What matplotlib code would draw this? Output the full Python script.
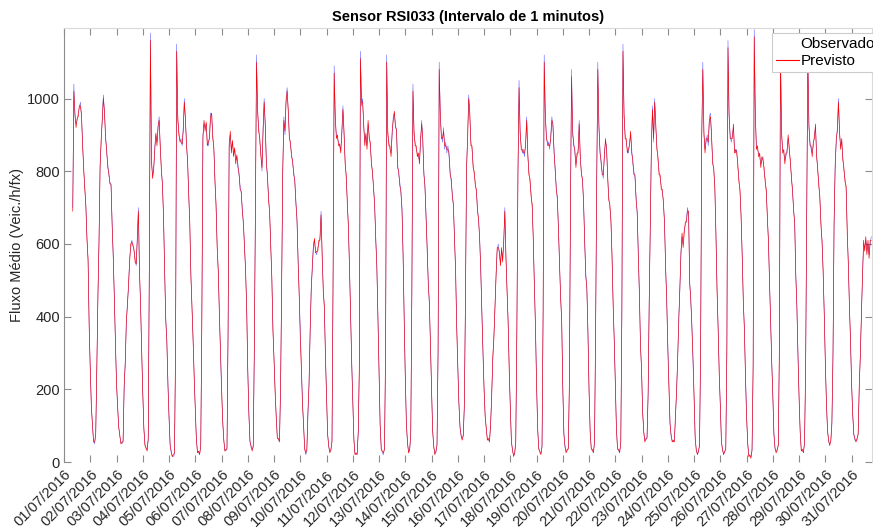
import numpy as np
import pandas as pd
import matplotlib
matplotlib.use("Agg")
import matplotlib.pyplot as plt
from matplotlib.lines import Line2D

plt.rcParams['font.family'] = ['Liberation Sans', 'DejaVu Sans']

# hourly values, first point 01/07/2016 08:00
observado = [
    700, 1040, 950, 930, 940, 960, 975, 990, 950, 880, 800, 760, 700, 620, 550, 380,
    250, 160, 100, 60, 50, 80, 250, 460, 600, 820, 880, 950, 1010, 960, 900, 850, 820, 790, 770, 760, 660, 560, 460, 330,
    220, 150, 100, 70, 55, 50, 60, 200, 280, 380, 440, 480, 560, 590, 610, 600, 580, 560, 540, 620, 700, 520, 440, 300,
    200, 90, 50, 35, 35, 60, 550, 1180, 820, 790, 800, 870, 900, 880, 920, 950, 860, 810, 760, 680, 520, 400, 330, 220,
    120, 50, 25, 15, 15, 20, 300, 1150, 940, 910, 880, 890, 870, 920, 1000, 940, 880, 820, 740, 650, 520, 420, 340, 230,
    150, 60, 30, 25, 25, 40, 400, 900, 930, 920, 930, 880, 870, 900, 960, 955, 900, 860, 780, 700, 600, 520, 420, 300,
    200, 120, 60, 35, 30, 40, 350, 880, 900, 860, 880, 850, 860, 830, 840, 820, 790, 760, 740, 700, 650, 600, 520, 430,
    260, 130, 60, 40, 35, 40, 300, 700, 1120, 960, 920, 880, 850, 800, 920, 1000, 920, 830, 780, 730, 680, 600, 500, 370,
    280, 200, 120, 70, 60, 60, 200, 500, 800, 950, 900, 1000, 1030, 960, 900, 870, 850, 820, 800, 770, 720, 660, 560, 450,
    350, 250, 170, 100, 40, 20, 30, 130, 220, 350, 480, 530, 600, 610, 580, 570, 590, 600, 620, 690, 560, 480, 420, 300,
    180, 80, 40, 30, 30, 60, 500, 1090, 940, 900, 890, 880, 870, 860, 900, 980, 900, 830, 780, 720, 640, 540, 400, 280,
    170, 60, 25, 20, 25, 80, 250, 1130, 980, 1000, 920, 880, 900, 870, 930, 900, 870, 830, 790, 760, 700, 620, 530, 400,
    250, 100, 40, 25, 20, 40, 300, 1120, 900, 880, 860, 850, 900, 950, 960, 930, 910, 820, 790, 770, 740, 700, 560, 400,
    230, 110, 50, 30, 30, 80, 450, 1040, 900, 880, 860, 850, 840, 830, 880, 940, 880, 800, 750, 680, 580, 500, 430, 330,
    200, 90, 40, 25, 25, 50, 300, 1100, 950, 900, 880, 920, 860, 880, 850, 870, 840, 800, 770, 740, 700, 620, 520, 380,
    270, 160, 100, 70, 65, 70, 150, 450, 800, 900, 1010, 950, 880, 860, 820, 790, 770, 740, 700, 660, 620, 520, 420, 300,
    200, 130, 90, 65, 60, 60, 100, 190, 280, 350, 420, 520, 580, 600, 570, 550, 580, 560, 600, 700, 560, 480, 380, 260,
    150, 60, 30, 20, 20, 60, 350, 800, 1050, 900, 870, 850, 860, 840, 880, 950, 840, 800, 770, 740, 700, 620, 480, 380,
    220, 90, 40, 25, 25, 40, 400, 1120, 950, 900, 870, 880, 860, 900, 950, 920, 860, 800, 760, 720, 650, 540, 460, 380,
    200, 80, 40, 30, 30, 40, 200, 700, 1080, 900, 880, 850, 820, 840, 860, 940, 830, 800, 770, 720, 600, 520, 470, 360,
    200, 80, 40, 30, 30, 50, 350, 780, 1100, 920, 860, 820, 800, 780, 850, 880, 870, 780, 730, 700, 670, 560, 440, 330,
    220, 90, 40, 30, 30, 50, 400, 1150, 950, 900, 880, 860, 850, 880, 900, 860, 820, 800, 780, 730, 680, 580, 460, 330,
    250, 140, 80, 60, 60, 70, 180, 450, 650, 880, 980, 880, 1000, 920, 870, 830, 800, 780, 760, 740, 720, 650, 540, 440,
    320, 200, 110, 70, 60, 55, 60, 120, 200, 280, 400, 470, 580, 620, 600, 640, 650, 670, 700, 680, 500, 440, 380, 280,
    180, 70, 30, 25, 25, 50, 300, 900, 1100, 900, 860, 880, 900, 870, 950, 960, 890, 830, 800, 760, 620, 480, 360, 250,
    150, 60, 30, 25, 25, 40, 300, 1160, 950, 900, 880, 900, 920, 860, 850, 860, 810, 780, 740, 680, 560, 450, 360, 240,
    130, 50, 20, 15, 15, 30, 250, 1190, 950, 870, 860, 850, 840, 820, 830, 840, 800, 780, 740, 680, 600, 500, 380, 280,
    180, 80, 35, 30, 30, 50, 300, 1130, 900, 860, 850, 830, 840, 860, 890, 870, 820, 790, 740, 700, 650, 520, 420, 300,
    180, 80, 35, 30, 30, 50, 250, 700, 1130, 920, 880, 860, 850, 870, 900, 920, 850, 800, 770, 720, 660, 600, 530, 400,
    280, 160, 90, 55, 50, 55, 100, 300, 650, 820, 880, 920, 1000, 900, 870, 880, 840, 800, 780, 750, 640, 540, 440, 330,
    220, 130, 80, 60, 60, 60, 80, 200, 300, 400, 520, 600, 590, 610, 580, 600, 570, 600, 620,
]

previsto = [
    690, 1020, 960, 920, 945, 950, 980, 980, 955, 870, 810, 750, 705, 610, 560, 370,
    255, 150, 105, 55, 55, 75, 260, 450, 610, 810, 890, 940, 1000, 965, 890, 860, 810, 795, 765, 765, 650, 570, 450, 340,
    215, 155, 95, 75, 50, 55, 55, 210, 270, 390, 430, 490, 550, 600, 605, 595, 585, 550, 545, 610, 690, 530, 430, 310,
    190, 95, 45, 40, 30, 65, 530, 1160, 830, 780, 810, 860, 905, 870, 925, 940, 870, 800, 765, 670, 530, 390, 335, 210,
    125, 45, 30, 15, 20, 25, 320, 1130, 950, 900, 885, 880, 875, 910, 990, 945, 870, 830, 735, 660, 510, 430, 330, 240,
    145, 65, 25, 30, 20, 45, 380, 890, 940, 910, 935, 870, 880, 890, 950, 960, 890, 865, 770, 710, 590, 530, 410, 310,
    205, 115, 65, 30, 35, 35, 370, 870, 910, 850, 885, 840, 865, 820, 845, 810, 795, 750, 745, 690, 660, 590, 530, 420,
    250, 135, 55, 45, 30, 45, 320, 690, 1100, 970, 910, 890, 840, 810, 910, 990, 930, 820, 790, 720, 690, 590, 510, 360,
    285, 190, 125, 65, 65, 55, 210, 490, 810, 940, 910, 990, 1020, 970, 890, 880, 840, 830, 790, 775, 710, 670, 550, 460,
    340, 255, 160, 105, 35, 25, 35, 140, 210, 360, 470, 540, 590, 615, 575, 580, 580, 610, 610, 680, 570, 470, 430, 290,
    185, 75, 45, 25, 35, 55, 520, 1070, 950, 890, 900, 870, 875, 850, 910, 970, 910, 820, 790, 710, 650, 530, 410, 270,
    165, 65, 20, 25, 20, 85, 270, 1110, 990, 990, 930, 870, 905, 860, 940, 890, 880, 820, 800, 750, 710, 610, 540, 390,
    240, 105, 35, 30, 25, 35, 320, 1100, 910, 870, 870, 840, 910, 940, 965, 920, 915, 810, 800, 760, 745, 690, 570, 390,
    235, 105, 55, 25, 35, 75, 470, 1020, 910, 870, 870, 840, 850, 820, 890, 930, 890, 790, 760, 670, 590, 490, 440, 320,
    205, 85, 45, 20, 30, 45, 320, 1080, 960, 890, 890, 910, 870, 870, 860, 860, 850, 790, 780, 730, 710, 610, 530, 370,
    260, 165, 95, 75, 60, 75, 160, 440, 810, 890, 1000, 960, 870, 870, 810, 800, 760, 750, 690, 670, 610, 530, 410, 310,
    205, 125, 95, 60, 65, 55, 105, 180, 290, 340, 430, 510, 590, 590, 580, 540, 590, 550, 610, 690, 570, 470, 390, 250,
    155, 55, 35, 15, 25, 55, 370, 790, 1030, 910, 860, 860, 850, 850, 870, 940, 850, 790, 780, 730, 710, 610, 490, 370,
    215, 95, 35, 30, 20, 45, 420, 1100, 960, 890, 880, 870, 870, 890, 940, 930, 850, 810, 750, 730, 640, 550, 450, 390,
    205, 75, 45, 25, 35, 35, 220, 690, 1060, 910, 870, 860, 810, 850, 850, 930, 840, 790, 780, 710, 610, 510, 480, 350,
    195, 85, 35, 35, 25, 55, 370, 770, 1080, 930, 850, 830, 790, 790, 840, 890, 860, 790, 720, 710, 660, 570, 430, 340,
    215, 95, 35, 35, 25, 55, 420, 1130, 960, 890, 890, 850, 860, 870, 910, 850, 830, 790, 790, 720, 690, 570, 470, 320,
    255, 135, 85, 55, 65, 65, 190, 440, 660, 870, 970, 890, 990, 930, 860, 840, 790, 790, 750, 750, 710, 660, 530, 450,
    310, 205, 105, 75, 55, 60, 55, 130, 190, 290, 390, 480, 570, 630, 590, 630, 660, 660, 690, 690, 490, 450, 370, 290,
    185, 65, 35, 20, 30, 45, 320, 890, 1080, 910, 850, 890, 890, 880, 940, 950, 900, 820, 810, 750, 630, 470, 370, 240,
    155, 55, 35, 20, 30, 35, 320, 1140, 960, 890, 890, 890, 930, 850, 860, 850, 820, 770, 750, 670, 570, 440, 370, 230,
    125, 55, 15, 20, 10, 35, 270, 1170, 960, 860, 870, 840, 850, 810, 840, 830, 810, 770, 750, 670, 610, 490, 390, 270,
    185, 75, 40, 25, 35, 45, 320, 1110, 910, 850, 860, 820, 850, 850, 900, 860, 830, 780, 750, 690, 660, 510, 430, 290,
    175, 85, 30, 35, 25, 55, 270, 690, 1110, 930, 870, 870, 840, 880, 890, 930, 840, 810, 760, 730, 650, 610, 520, 410,
    270, 165, 85, 60, 45, 60, 110, 290, 660, 810, 890, 910, 990, 910, 860, 890, 830, 810, 770, 760, 630, 550, 430, 340,
    215, 135, 75, 65, 55, 65, 75, 210, 290, 410, 510, 610, 580, 620, 570, 610, 560, 610, 610,
]

tempo = pd.date_range('2016-07-01 08:00', periods=len(observado), freq='h')
dias = pd.date_range('2016-07-01', '2016-07-31', freq='D')
rotulos = [d.strftime('%d/%m/%Y') for d in dias]

fig = plt.figure(figsize=(8.73, 5.29), dpi=100)
ax = fig.add_axes([64/873, 1 - 462/529, 808/873, (462 - 28)/529])

ax.plot(tempo, observado, color='b', lw=0.4, alpha=0.6)
ax.plot(tempo, previsto, color='r', lw=0.45)

ax.set_xlim(pd.Timestamp('2016-07-01 00:00'), pd.Timestamp('2016-07-31 18:40'))
ax.set_ylim(0, 1194)
ax.set_yticks([0, 200, 400, 600, 800, 1000])
ax.set_xticks(dias)
ax.set_xticklabels(rotulos, rotation=45, ha='right', va='top', rotation_mode='anchor')

ax.tick_params(direction='in', top=True, right=True, length=5, width=0.8,
               colors='0.55', labelcolor='0.15', labelsize=10.5, pad=3)
ax.tick_params(axis='x', pad=4)
ax.spines['left'].set_color('0.55')
ax.spines['top'].set_color('0.85')
ax.spines['right'].set_color('0.85')
ax.spines['bottom'].set_visible(False)

ax.set_title('Sensor RSI033 (Intervalo de 1 minutos)', fontsize=10.5, fontweight='bold', pad=5)
ax.set_ylabel('Fluxo Médio (Veic./h/fx)', fontsize=10.5, color='0.15', labelpad=2)

handles = [Line2D([], [], color='none'), Line2D([], [], color='r', lw=0.8)]
leg = ax.legend(handles, ['Observado', 'Previsto'], loc='upper left',
                bbox_to_anchor=(772/873, 1 - 33/529), bbox_transform=fig.transFigure,
                fontsize=11, frameon=True, fancybox=False, framealpha=1,
                edgecolor='0.8', borderpad=0.25, labelspacing=0.2,
                handlelength=1.5, handletextpad=0.1, borderaxespad=0)
leg.get_frame().set_linewidth(0.8)

fig.savefig('out.png', dpi=100)
